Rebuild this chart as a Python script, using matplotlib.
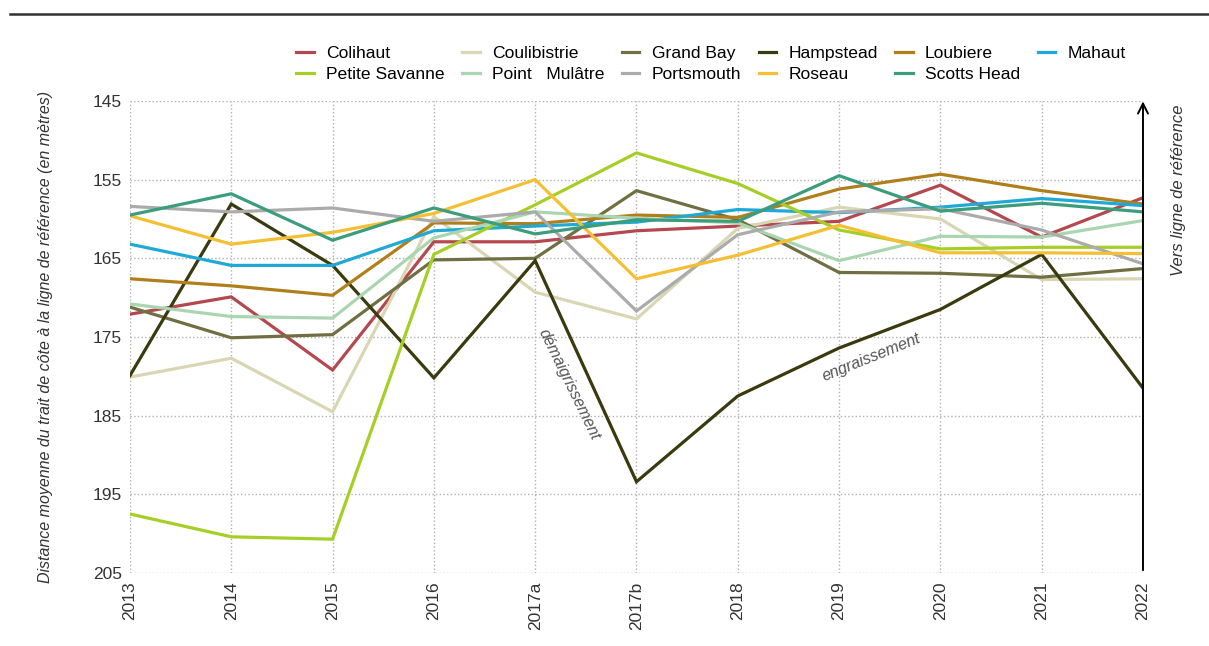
import matplotlib.pyplot as plt
from matplotlib.lines import Line2D

plt.rcParams['font.family'] = ['Liberation Sans', 'DejaVu Sans']

# années (2017 en deux relevés)
annees = ["2013", "2014", "2015", "2016", "2017a", "2017b", "2018", "2019", "2020", "2021", "2022"]

# distance moyenne du trait de côte (m) par site
colihaut = [172.1, 169.9, 179.2, 162.9, 162.9, 161.5, 160.9, 160.3, 155.7, 162.3, 157.3]
coulibistrie = [180.1, 177.7, 184.5, 159.7, 169.3, 172.7, 161.2, 158.5, 160.0, 167.7, 167.6]
grand_bay = [171.2, 175.1, 174.7, 165.2, 165.0, 156.4, 160.1, 166.8, 166.9, 167.4, 166.3]
hampstead = [179.9, 158.1, 165.9, 180.2, 165.3, 193.4, 182.5, 176.4, 171.5, 164.5, 181.5]
loubiere = [167.6, 168.5, 169.7, 160.5, 160.6, 159.5, 159.8, 156.2, 154.3, 156.4, 158.1]
mahaut = [163.2, 165.9, 165.9, 161.5, 160.9, 160.4, 158.8, 159.2, 158.5, 157.4, 158.3]
petite_savanne = [197.5, 200.4, 200.7, 164.5, 158.2, 151.6, 155.5, 161.4, 163.8, 163.6, 163.6]
point_mulatre = [170.8, 172.4, 172.6, 162.4, 159.1, 159.9, 160.5, 165.3, 162.2, 162.3, 160.2]
portsmouth = [158.4, 159.1, 158.6, 160.3, 159.1, 171.7, 162.0, 159.1, 158.7, 161.4, 165.7]
roseau = [159.6, 163.2, 161.7, 159.3, 155.0, 167.6, 164.6, 160.8, 164.3, 164.3, 164.4]
scotts_head = [159.5, 156.8, 162.7, 158.6, 161.9, 160.1, 160.3, 154.5, 159.0, 158.0, 159.1]

sites = ["Colihaut", "Coulibistrie", "Grand Bay", "Hampstead", "Loubiere", "Mahaut",
         "Petite Savanne", "Point   Mulâtre", "Portsmouth", "Roseau", "Scotts Head"]
series = [colihaut, coulibistrie, grand_bay, hampstead, loubiere, mahaut,
          petite_savanne, point_mulatre, portsmouth, roseau, scotts_head]
couleurs = ["#b5484f", "#d9d6b3", "#6f6f42", "#3a3a0e", "#b07f1c", "#1ea9d6",
            "#a5cf26", "#a9d6b0", "#ababab", "#f4bf33", "#3b9d7b"]

fig = plt.figure(figsize=(12.09, 6.46), dpi=100)
ax = fig.add_axes([0.1075, 0.113, 0.8379, 0.7307])

x = list(range(len(annees)))
handles = []
for nom, vals, c in zip(sites, series, couleurs):
    h, = ax.plot(x, vals, color=c, lw=2.3, label=nom, solid_joinstyle='miter')
    handles.append(h)

ax.set_xlim(0, 10)
ax.set_ylim(205, 145)
ax.set_yticks([145, 155, 165, 175, 185, 195, 205])
ax.set_xticks(x)
ax.set_xticklabels(annees, rotation=90)
ax.tick_params(length=0, labelsize=12.5, labelcolor="#333333", pad=6)
ax.grid(True, ls=':', color='#b0b0b0', lw=1.0)
for s in ax.spines.values():
    s.set_visible(False)

ax.set_ylabel("Distance moyenne du trait de côte à la ligne de référence (en mètres)",
              style='italic', fontsize=11.5, color="#333333")
ax.yaxis.set_label_coords(-0.076, 0.5)

# flèche vers la ligne de référence
ax.annotate("", xy=(10, 144.7), xytext=(10, 205),
            arrowprops=dict(arrowstyle='->', color='black', lw=1.4, mutation_scale=18),
            annotation_clip=False)
ax.text(1.035, 0.81, "Vers ligne de référence", transform=ax.transAxes, rotation=90,
        ha='center', va='center', style='italic', fontsize=12, color="#333333")

ax.text(4.33, 181.0, "démaigrissement", rotation=-64, ha='center', va='center',
        style='italic', fontsize=11.5, color="#555555")
ax.text(7.32, 177.6, "engraissement", rotation=22, ha='center', va='center',
        style='italic', fontsize=11.5, color="#555555")

# légende remplie par lignes
ordre = [0, 6, 1, 7, 2, 8, 3, 9, 4, 10, 5]
leg = fig.legend([handles[i] for i in ordre], [sites[i] for i in ordre], ncol=6,
                 loc='upper left', bbox_to_anchor=(0.232, 0.953), frameon=False,
                 fontsize=12.6, handlelength=1.0, handletextpad=0.7, columnspacing=1.0,
                 labelspacing=0.3)

fig.add_artist(Line2D([0.008, 1.0], [0.978, 0.978], color='#333333', lw=1.8))

fig.savefig("out.png", dpi=100)
